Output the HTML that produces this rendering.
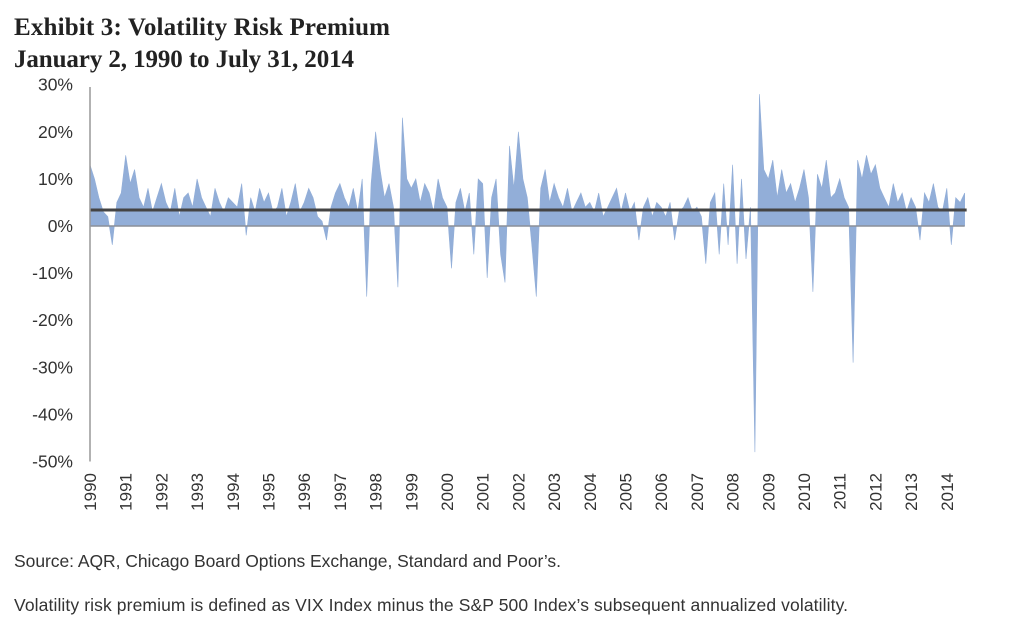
<!DOCTYPE html>
<html><head><meta charset="utf-8">
<style>
body{margin:0;background:#fff;width:1029px;height:623px;overflow:hidden;font-family:"Liberation Sans",sans-serif}
svg{display:block}
</style></head>
<body>
<svg id="chart" width="1029" height="623" xmlns="http://www.w3.org/2000/svg">
<text x="14" y="35" font-family="Liberation Serif,serif" font-size="25" fill="#222" font-weight="bold" textLength="376">Exhibit 3: Volatility Risk Premium</text>
<text x="14" y="67" font-family="Liberation Serif,serif" font-size="25" fill="#222" font-weight="bold" textLength="340">January 2, 1990 to July 31, 2014</text>
<g id="yaxis"></g>
<g id="xaxis"></g>
<g id="plot"></g>
<text x="14" y="567" font-size="17.5" fill="#333" textLength="547">Source: AQR, Chicago Board Options Exchange, Standard and Poor’s.</text>
<text x="14" y="611" font-size="17.5" fill="#333" textLength="834">Volatility risk premium is defined as VIX Index minus the S&amp;P 500 Index’s subsequent annualized volatility.</text>
</svg>
<script>
const yTicks=[30,20,10,0,-10,-20,-30,-40,-50];
const years=[1990,1991,1992,1993,1994,1995,1996,1997,1998,1999,2000,2001,2002,2003,2004,2005,2006,2007,2008,2009,2010,2011,2012,2013,2014];
const startYear=1990, stepYears=0.125;
const meanPremium=3.4;
const premium=[
13,10,6,3,2,-4,5,7,
15,9,12,6,4,8,3,6,
9,5,3,8,2,6,7,4,
10,6,4,2,8,5,3,6,
5,4,9,-2,6,3,8,5,
7,3,4,8,2,5,9,3,
5,8,6,2,1,-3,4,7,
9,6,4,8,3,10,-15,9,
20,12,6,9,4,-13,23,10,
8,10,5,9,7,3,10,6,
4,-9,5,8,3,7,-6,10,
9,-11,6,10,-6,-12,17,8,
20,10,6,-4,-15,8,12,5,
9,6,4,8,3,5,7,4,
5,3,7,2,4,6,8,3,
7,3,5,-3,4,6,2,5,
4,2,5,-3,3,4,6,3,
4,2,-8,5,7,-6,9,-4,
13,-8,10,-7,4,-48,28,12,
10,14,6,12,7,9,5,8,
12,6,-14,11,8,14,6,7,
10,6,4,-29,14,10,15,11,
13,8,6,4,9,5,7,3,
6,4,-3,7,5,9,4,3,
8,-4,6,5,7
];
const NS="http://www.w3.org/2000/svg";
const x0=90, pxYear=35.7, y0=226, pxPct=4.71;
const X=t=>x0+(t-startYear)*pxYear;
const Y=v=>y0-v*pxPct;
function mk(tag,attrs,parent){const e=document.createElementNS(NS,tag);for(const k in attrs)e.setAttribute(k,attrs[k]);parent.appendChild(e);return e;}
const ya=document.getElementById('yaxis'), xa=document.getElementById('xaxis'), plot=document.getElementById('plot');
yTicks.forEach(v=>{
  const t=mk('text',{x:73,y:Y(v)+6,'text-anchor':'end','font-size':17.5,fill:'#333'},ya);
  
  
  t.textContent=v+'%';
});
years.forEach(yr=>{
  const x=X(yr);
  const t=mk('text',{x:0,y:0,'text-anchor':'end','font-size':17,fill:'#333',transform:`translate(${x+6},473) rotate(-90)`},xa);
  
  
  t.textContent=yr;
});
let d=`M${X(startYear)},${Y(0)}`;
premium.forEach((v,i)=>{d+=` L${X(startYear+i*stepYears).toFixed(1)},${Y(v).toFixed(1)}`;});
const xe=X(startYear+(premium.length-1)*stepYears);
d+=` L${xe},${Y(0)} Z`;
const area=mk('path',{d:d,fill:'#92aed8',stroke:'#92aed8','stroke-width':0.6},plot);


const zl=mk('line',{x1:x0,x2:xe,y1:Y(0),y2:Y(0),stroke:'#8a8f99','stroke-width':1.5},plot);


const ml=mk('line',{x1:x0,x2:xe+2,y1:Y(meanPremium),y2:Y(meanPremium),stroke:'#444','stroke-width':3},plot);


const ax=mk('line',{x1:x0,x2:x0,y1:87,y2:Y(-50),stroke:'#999','stroke-width':1.5},plot);


</script>
</body></html>
